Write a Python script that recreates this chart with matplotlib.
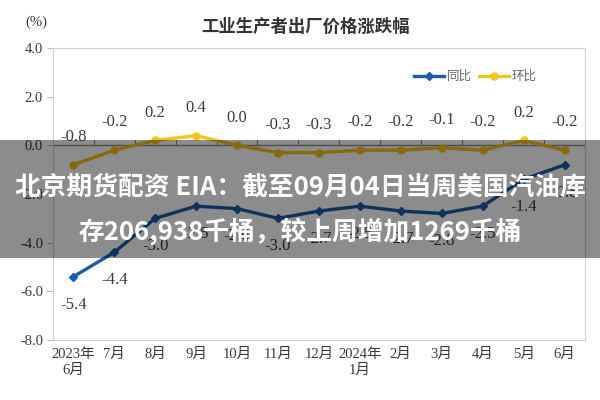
import numpy as np
import matplotlib
matplotlib.use("Agg")
import matplotlib.pyplot as plt
from matplotlib.patches import Rectangle

plt.rcParams['font.family'] = ['Liberation Serif', 'Noto Sans CJK SC', 'DejaVu Sans']

# data
months = ['2023年\n6月', '7月', '8月', '9月', '10月', '11月', '12月',
          '2024年\n1月', '2月', '3月', '4月', '5月', '6月']
yoy = [-5.4, -4.4, -3.0, -2.5, -2.6, -3.0, -2.7, -2.5, -2.7, -2.8, -2.5, -1.4, -0.8]
mom = [-0.8, -0.2, 0.2, 0.4, 0.0, -0.3, -0.3, -0.2, -0.2, -0.1, -0.2, 0.2, -0.2]
yticks = [4.0, 2.0, 0.0, -2.0, -4.0, -6.0, -8.0]

title = '工业生产者出厂价格涨跌幅'
banner_lines = ['北京期货配资 EIA：截至09月04日当周美国汽油库',
                '存206,938千桶，较上周增加1269千桶']

blue = '#1c5ca8'
yellow = '#f2c318'
grey_txt = '#3a3a3a'

fig = plt.figure(figsize=(6, 4), dpi=100)
ax = fig.add_axes([0.088, 0.15, 0.887, 0.73])
x = np.arange(len(months))

ax.plot(x, yoy, color=blue, lw=2.4, marker='D', ms=4, label='同比', zorder=3)
ax.plot(x, mom, color=yellow, lw=2.4, marker='o', ms=5, label='环比', zorder=3)

# data labels
for xi, v in zip(x, mom):
    ax.annotate(f'{v:.1f}', (xi, v), xytext=(0, 20), textcoords='offset points',
                ha='center', va='center', fontsize=12, color=grey_txt)
for xi, v in zip(x, yoy):
    ax.annotate(f'{v:.1f}', (xi, v), xytext=(0, -20), textcoords='offset points',
                ha='center', va='center', fontsize=12, color=grey_txt)

ax.set_xlim(-0.5, len(months) - 0.5)
ax.set_ylim(-8, 4)
ax.set_yticks(yticks)
ax.set_yticklabels([f'{t:.1f}' for t in yticks], fontsize=10.5, color=grey_txt)
ax.set_xticks(x)
ax.set_xticklabels(months, fontsize=10.5, color=grey_txt, linespacing=1.25)
ax.tick_params(axis='x', length=0, pad=6)
ax.tick_params(axis='y', length=4, color='#bbbbbb', pad=3)
for s in ax.spines.values():
    s.set_color('#d0d0d0')

# zero line with category tick marks
ax.axhline(0, color='#8c8c8c', lw=1, zorder=2)
for b in np.arange(0.5, len(months) - 1, 1):
    ax.plot([b, b], [0, 0.22], color='#8c8c8c', lw=0.8, zorder=2)

leg = ax.legend(loc='upper right', bbox_to_anchor=(0.93, 0.96), ncol=2, frameon=False,
                fontsize=9, handlelength=2.4, columnspacing=0.6, handletextpad=0.2)
for t in leg.get_texts():
    t.set_color('#666666')

fig.text(0.06, 0.945, '(%)', ha='center', va='center', fontsize=10.5, color=grey_txt)
fig.text(0.51, 0.932, title, ha='center', va='center', fontsize=12.5,
         fontweight='bold', family=['Noto Sans CJK SC'], color='#333333')

# grey banner with white text
fig.patches.append(Rectangle((0, 1 - 258 / 400), 1, 118 / 400, transform=fig.transFigure,
                             facecolor='black', alpha=0.45, zorder=10))
for txt, yp in zip(banner_lines, [187, 232]):
    fig.text(0.5, 1 - yp / 400, txt, ha='center', va='center', fontsize=18.5,
             fontweight='bold', color='white', family=['Noto Sans CJK SC'], zorder=11)

fig.savefig('out.png', dpi=100)
